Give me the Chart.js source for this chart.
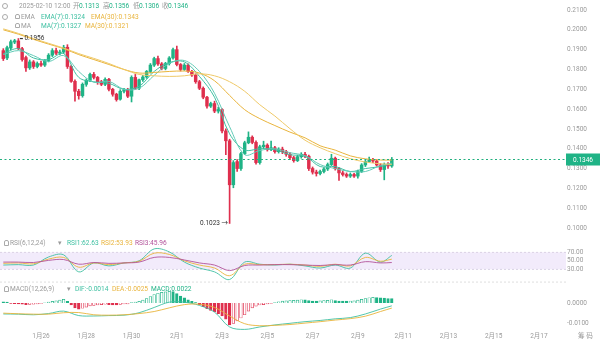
<!DOCTYPE html>
<html>
<head>
<meta charset="utf-8">
<script src="https://cdn.jsdelivr.net/npm/chart.js@4.4.0/dist/chart.umd.min.js"></script>
<style>
  html, body { margin: 0; padding: 0; background: #fff; }
  body { position: relative; width: 600px; height: 343px; overflow: hidden; }
  .pane { position: absolute; left: 0; width: 600px; }
  .lbl { position: absolute; white-space: nowrap; font: 6.6px/8px Roboto, "Noto Sans CJK SC", sans-serif; transform: translateY(-50%); }
  .ring { position: absolute; width: 4px; height: 4px; border: 0.8px solid #aaa; border-radius: 50%; }
  .bell { position: absolute; width: 3px; height: 3.5px; border: 0.8px solid #aaa; border-radius: 2px 2px 0 0; }
</style>
</head>
<body>
<div class="pane" style="top:0;height:234px"><canvas id="mainChart"></canvas></div>
<div class="pane" style="top:239px;height:46px"><canvas id="rsiChart"></canvas></div>
<div class="pane" style="top:286px;height:57px"><canvas id="macdChart"></canvas></div>

<script>
// 4h candles, hours counted from 1月26 00:00; first candle is 1月24 08:00
const startHour = -40;
const stepHours = 4;

const candleOpen = [
  0.1895, 0.1858, 0.1908, 0.1938, 0.1944, 0.1905, 0.1860, 0.1808, 0.1838, 0.1815,
  0.1830, 0.1822, 0.1845, 0.1872, 0.1895, 0.1882, 0.1888, 0.1912, 0.1815, 0.1740,
  0.1690, 0.1668, 0.1725, 0.1745, 0.1775, 0.1760, 0.1738, 0.1725, 0.1750, 0.1700,
  0.1675, 0.1650, 0.1690, 0.1698, 0.1665, 0.1760, 0.1705, 0.1748, 0.1762, 0.1790,
  0.1822, 0.1855, 0.1828, 0.1805, 0.1830, 0.1858, 0.1900, 0.1825, 0.1800, 0.1822,
  0.1790, 0.1772, 0.1738, 0.1705, 0.1660, 0.1615, 0.1628, 0.1590, 0.1598, 0.1490,
  0.1440, 0.1218, 0.1335, 0.1300, 0.1375, 0.1430, 0.1458, 0.1432, 0.1330, 0.1410,
  0.1418, 0.1395, 0.1405, 0.1385, 0.1398, 0.1385, 0.1372, 0.1355, 0.1340, 0.1360,
  0.1372, 0.1362, 0.1300, 0.1282, 0.1275, 0.1285, 0.1298, 0.1320, 0.1352, 0.1300,
  0.1278, 0.1270, 0.1262, 0.1270, 0.1262, 0.1285, 0.1318, 0.1335, 0.1345, 0.1338,
  0.1318, 0.1295, 0.1320, 0.1313
];
const candleHigh = [
  0.1905, 0.1918, 0.1948, 0.1952, 0.1956, 0.1912, 0.1868, 0.1848, 0.1845, 0.1838,
  0.1842, 0.1850, 0.1880, 0.1905, 0.1908, 0.1898, 0.1922, 0.1925, 0.1822, 0.1748,
  0.1700, 0.1732, 0.1752, 0.1782, 0.1785, 0.1765, 0.1745, 0.1758, 0.1755, 0.1705,
  0.1680, 0.1698, 0.1705, 0.1705, 0.1768, 0.1775, 0.1752, 0.1770, 0.1795, 0.1830,
  0.1862, 0.1868, 0.1835, 0.1836, 0.1865, 0.1908, 0.1918, 0.1830, 0.1830, 0.1828,
  0.1796, 0.1778, 0.1745, 0.1712, 0.1665, 0.1635, 0.1640, 0.1610, 0.1602, 0.1500,
  0.1448, 0.1340, 0.1345, 0.1382, 0.1438, 0.1485, 0.1465, 0.1440, 0.1418, 0.1438,
  0.1425, 0.1438, 0.1412, 0.1405, 0.1408, 0.1392, 0.1380, 0.1362, 0.1368, 0.1380,
  0.1382, 0.1368, 0.1308, 0.1292, 0.1292, 0.1305, 0.1328, 0.1372, 0.1358, 0.1305,
  0.1288, 0.1278, 0.1278, 0.1276, 0.1292, 0.1325, 0.1342, 0.1358, 0.1352, 0.1345,
  0.1325, 0.1328, 0.1330, 0.1356
];
const candleLow = [
  0.1845, 0.1850, 0.1900, 0.1930, 0.1900, 0.1842, 0.1790, 0.1800, 0.1805, 0.1808,
  0.1815, 0.1815, 0.1838, 0.1865, 0.1875, 0.1875, 0.1880, 0.1805, 0.1735, 0.1640,
  0.1650, 0.1660, 0.1715, 0.1738, 0.1752, 0.1725, 0.1718, 0.1718, 0.1692, 0.1665,
  0.1640, 0.1645, 0.1682, 0.1658, 0.1636, 0.1700, 0.1698, 0.1740, 0.1755, 0.1782,
  0.1815, 0.1820, 0.1798, 0.1798, 0.1822, 0.1852, 0.1818, 0.1792, 0.1795, 0.1785,
  0.1765, 0.1730, 0.1698, 0.1652, 0.1605, 0.1608, 0.1582, 0.1580, 0.1480, 0.1370,
  0.1023, 0.1203, 0.1285, 0.1290, 0.1370, 0.1425, 0.1425, 0.1322, 0.1322, 0.1400,
  0.1388, 0.1390, 0.1378, 0.1378, 0.1375, 0.1362, 0.1345, 0.1332, 0.1335, 0.1352,
  0.1355, 0.1290, 0.1272, 0.1262, 0.1268, 0.1278, 0.1290, 0.1315, 0.1292, 0.1240,
  0.1262, 0.1255, 0.1255, 0.1255, 0.1252, 0.1280, 0.1310, 0.1330, 0.1330, 0.1312,
  0.1285, 0.1243, 0.1300, 0.1306
];
const candleClose = [
  0.1855, 0.1910, 0.1940, 0.1945, 0.1905, 0.1850, 0.1808, 0.1838, 0.1815, 0.1830,
  0.1822, 0.1845, 0.1872, 0.1895, 0.1882, 0.1888, 0.1912, 0.1815, 0.1740, 0.1690,
  0.1668, 0.1725, 0.1745, 0.1775, 0.1760, 0.1735, 0.1725, 0.1750, 0.1700, 0.1675,
  0.1648, 0.1690, 0.1698, 0.1665, 0.1760, 0.1705, 0.1748, 0.1762, 0.1790, 0.1822,
  0.1855, 0.1828, 0.1805, 0.1830, 0.1858, 0.1900, 0.1825, 0.1800, 0.1822, 0.1790,
  0.1772, 0.1738, 0.1705, 0.1660, 0.1615, 0.1628, 0.1590, 0.1598, 0.1490, 0.1440,
  0.1218, 0.1330, 0.1300, 0.1375, 0.1430, 0.1458, 0.1432, 0.1330, 0.1410, 0.1418,
  0.1395, 0.1405, 0.1385, 0.1398, 0.1385, 0.1372, 0.1355, 0.1340, 0.1360, 0.1372,
  0.1362, 0.1300, 0.1282, 0.1275, 0.1285, 0.1298, 0.1320, 0.1352, 0.1300, 0.1278,
  0.1270, 0.1262, 0.1270, 0.1262, 0.1285, 0.1318, 0.1335, 0.1345, 0.1338, 0.1318,
  0.1295, 0.1320, 0.1313, 0.1346
];

// indicator lines, read every 4th candle
const lineIdx = [0, 4, 8, 12, 16, 20, 24, 28, 32, 36, 40, 44, 48, 52, 56, 60, 64, 68, 72, 76, 80, 84, 88, 92, 96, 100, 103];
const ema7  = [0.1880, 0.1905, 0.1858, 0.1850, 0.1880, 0.1760, 0.1738, 0.1730, 0.1700, 0.1715, 0.1790, 0.1835, 0.1838, 0.1765, 0.1660, 0.1475, 0.1394, 0.1400, 0.1395, 0.1370, 0.1362, 0.1310, 0.1310, 0.1285, 0.1300, 0.1310, 0.1324];
const ma7   = [0.1875, 0.1895, 0.1870, 0.1840, 0.1870, 0.1790, 0.1735, 0.1740, 0.1700, 0.1705, 0.1770, 0.1830, 0.1845, 0.1790, 0.1680, 0.1511, 0.1370, 0.1391, 0.1400, 0.1380, 0.1365, 0.1320, 0.1300, 0.1285, 0.1285, 0.1315, 0.1327];
const ema30 = [0.2000, 0.1978, 0.1952, 0.1928, 0.1905, 0.1875, 0.1850, 0.1825, 0.1800, 0.1782, 0.1785, 0.1790, 0.1792, 0.1782, 0.1743, 0.1669, 0.1597, 0.1552, 0.1517, 0.1484, 0.1455, 0.1415, 0.1393, 0.1364, 0.1349, 0.1343, 0.1343];
const ma30  = [0.2005, 0.1982, 0.1956, 0.1932, 0.1908, 0.1880, 0.1856, 0.1830, 0.1800, 0.1775, 0.1768, 0.1765, 0.1768, 0.1778, 0.1768, 0.1738, 0.1690, 0.1622, 0.1565, 0.1501, 0.1443, 0.1405, 0.1375, 0.1350, 0.1333, 0.1324, 0.1321];

const rsi1 = [40, 41, 40, 59, 64, 24, 45, 38, 45, 50, 78, 71, 47, 33, 24, 6, 47, 42, 40, 42, 38, 33, 40, 33, 68, 47, 62.63];
const rsi2 = [44, 45, 43, 54, 58, 35, 45, 41, 45, 49, 68, 65, 50, 40, 33, 15, 42, 41, 41, 42, 40, 37, 42, 38, 58, 49, 53.93];
const rsi3 = [47, 47, 46, 51, 53, 42, 46, 44, 45, 47, 58, 58, 52, 45, 40, 27, 39, 40, 41, 41, 40, 39, 41, 40, 48, 45, 45.96];

const dif = [-0.0054, -0.0055, -0.0058, -0.0052, -0.0040, -0.0062, -0.0064, -0.0062, -0.0060, -0.0048, -0.0022, 0.0004, 0.0004, -0.0012, -0.0045, -0.0118, -0.0130, -0.0118, -0.0108, -0.0100, -0.0092, -0.0086, -0.0078, -0.0072, -0.0054, -0.0030, -0.0014];
const dea = [-0.0050, -0.0053, -0.0055, -0.0055, -0.0048, -0.0047, -0.0058, -0.0060, -0.0058, -0.0052, -0.0042, -0.0024, -0.0008, -0.0006, -0.0022, -0.0064, -0.0102, -0.0112, -0.0110, -0.0106, -0.0099, -0.0092, -0.0084, -0.0077, -0.0065, -0.0042, -0.0025];

// MACD histogram, one bar per candle
const macdHist = [
  0.0006, 0.0004, -0.0002, -0.0003, -0.0004, -0.0006, -0.0008, -0.0007, -0.0006, -0.0005,
  -0.0003, 0.0001, 0.0004, 0.0008, 0.0011, 0.0014, 0.0018, 0.0008, -0.0010, -0.0024,
  -0.0030, -0.0026, -0.0020, -0.0014, -0.0012, -0.0010, -0.0008, -0.0006, -0.0008, -0.0009,
  -0.0010, -0.0007, -0.0005, -0.0004, 0.0002, 0.0004, 0.0008, 0.0014, 0.0022, 0.0032,
  0.0042, 0.0048, 0.0052, 0.0055, 0.0057, 0.0056, 0.0046, 0.0034, 0.0026, 0.0016,
  0.0008, 0.0002, -0.0008, -0.0018, -0.0028, -0.0036, -0.0044, -0.0052, -0.0064, -0.0080,
  -0.0108, -0.0100, -0.0088, -0.0074, -0.0058, -0.0040, -0.0024, -0.0016, -0.0010, -0.0008,
  -0.0005, -0.0002, 0.0002, 0.0006, 0.0009, 0.0011, 0.0012, 0.0013, 0.0014, 0.0016,
  0.0016, 0.0012, 0.0010, 0.0010, 0.0011, 0.0012, 0.0013, 0.0016, 0.0012, 0.0010,
  0.0010, 0.0009, 0.0010, 0.0011, 0.0014, 0.0018, 0.0022, 0.0026, 0.0028, 0.0027,
  0.0025, 0.0024, 0.0022, 0.0022
];

const dayTickHours  = [0, 48, 96, 144, 192, 240, 288, 336, 384, 432, 480, 528];
const dayTickLabels = ['1月26', '1月28', '1月30', '2月1', '2月3', '2月5', '2月7', '2月9', '2月11', '2月13', '2月15', '2月17'];
const priceTicks = [0.10, 0.11, 0.12, 0.13, 0.14, 0.15, 0.16, 0.17, 0.18, 0.19, 0.20, 0.21];
const rsiTicks = [30, 50, 70];
const macdTicks = [-0.01, 0];

// ---- styles ----
const UP = '#1fb386';
const DOWN = '#df2f4d';
const TEAL = '#3fc0a2';
const TEAL2 = '#62cbb7';
const YELLOW = '#e9b43c';
const YELLOW2 = '#efc968';
const PURPLE = '#b2529a';
const GREY = '#9a9a9a';
const FONT = 'Roboto, "Noto Sans CJK SC", sans-serif';

const xMin = -43.5, xMax = 552.5;
const hourOf = i => startHour + stepHours * i;

Chart.defaults.font.family = FONT;
Chart.defaults.font.size = 6.5;
Chart.defaults.color = GREY;

function fixedY(ticks, fmt) {
  return {
    position: 'right',
    grid: { display: false, drawTicks: false },
    border: { display: false },
    ticks: { padding: 5, color: GREY, font: { size: 6.5 }, callback: v => fmt(v) },
    afterBuildTicks: s => { s.ticks = ticks.map(v => ({ value: v })); },
    afterFit: s => { s.width = 38; s.paddingTop = 0; s.paddingBottom = 0; }
  };
}
const hiddenX = { type: 'linear', display: false, min: xMin, max: xMax, offset: false };
const baseOpts = {
  responsive: true,
  maintainAspectRatio: false,
  animation: false,
  devicePixelRatio: 1,
  layout: { padding: 0 },
  plugins: { legend: { display: false }, tooltip: { enabled: false } }
};

function lineSet(values, color, width) {
  return {
    type: 'line',
    data: lineIdx.map((k, j) => ({ x: hourOf(k), y: values[j] })),
    borderColor: color,
    borderWidth: width || 1,
    pointRadius: 0,
    tension: 0.35,
    fill: false
  };
}

// ---- price panel ----
const candleColor = candleClose.map((c, i) => c >= candleOpen[i] ? UP : DOWN);

const priceMarks = {
  id: 'priceMarks',
  afterDatasetsDraw(chart) {
    const { ctx, chartArea, scales } = chart;
    const x = scales.x, y = scales.y;
    let hi = 0, lo = 0;
    candleHigh.forEach((v, i) => { if (v > candleHigh[hi]) hi = i; });
    candleLow.forEach((v, i) => { if (v < candleLow[lo]) lo = i; });
    ctx.save();
    ctx.font = '6.5px ' + FONT;
    ctx.fillStyle = '#333';
    ctx.textBaseline = 'middle';
    // highest high
    const hx = x.getPixelForValue(hourOf(hi)), hy = y.getPixelForValue(candleHigh[hi]);
    ctx.fillRect(hx + 1.5, hy - 0.6, 3, 1.2);
    ctx.textAlign = 'left';
    ctx.fillText(candleHigh[hi].toFixed(4), hx + 6, hy);
    // lowest low
    const lx = x.getPixelForValue(hourOf(lo)), ly = y.getPixelForValue(candleLow[lo]);
    ctx.textAlign = 'right';
    ctx.fillText(candleLow[lo].toFixed(4) + ' →', lx - 1.5, ly);
    // last price line and tag
    const last = candleClose[candleClose.length - 1];
    const py = Math.round(y.getPixelForValue(last)) + 0.5;
    ctx.strokeStyle = '#22b07f';
    ctx.lineWidth = 1;
    ctx.setLineDash([2, 2.5]);
    ctx.beginPath();
    ctx.moveTo(chartArea.left, py);
    ctx.lineTo(chartArea.right + 4, py);
    ctx.stroke();
    ctx.setLineDash([]);
    ctx.fillStyle = UP;
    ctx.fillRect(chartArea.right + 4, py - 6, 34, 12);
    ctx.fillStyle = '#fff';
    ctx.textAlign = 'center';
    ctx.fillText(last.toFixed(4), chartArea.right + 21, py + 0.5);
    ctx.restore();
  }
};

new Chart(document.getElementById('mainChart'), {
  type: 'bar',
  data: {
    datasets: [
      {
        data: candleHigh.map((h, i) => ({ x: hourOf(i), y: [candleLow[i], h] })),
        backgroundColor: candleColor,
        barThickness: 1,
        grouped: false,
        order: 3
      },
      {
        data: candleOpen.map((o, i) => ({ x: hourOf(i), y: [o, candleClose[i]] })),
        backgroundColor: candleColor,
        barThickness: 2.8,
        minBarLength: 1,
        grouped: false,
        order: 2
      },
      Object.assign(lineSet(ma30, YELLOW2), { order: 1 }),
      Object.assign(lineSet(ema30, YELLOW), { order: 1 }),
      Object.assign(lineSet(ma7, TEAL2), { order: 1 }),
      Object.assign(lineSet(ema7, TEAL), { order: 1 })
    ]
  },
  options: Object.assign({}, baseOpts, {
    scales: {
      x: hiddenX,
      y: Object.assign(fixedY(priceTicks, v => v.toFixed(4)), { min: 0.09697, max: 0.21505, beginAtZero: false })
    }
  }),
  plugins: [priceMarks]
});

// ---- RSI panel ----
const rsiBand = {
  id: 'rsiBand',
  beforeDatasetsDraw(chart) {
    const { ctx, chartArea, scales } = chart;
    const y70 = scales.y.getPixelForValue(70), y30 = scales.y.getPixelForValue(30), y0 = scales.y.getPixelForValue(0);
    const right = chartArea.right + 4;
    ctx.save();
    ctx.fillStyle = '#f2ebfb';
    ctx.fillRect(chartArea.left, y70, right - chartArea.left, y30 - y70);
    ctx.strokeStyle = '#d3cadf';
    ctx.lineWidth = 0.8;
    ctx.setLineDash([2, 2]);
    [y70, y30].forEach(yy => {
      ctx.beginPath(); ctx.moveTo(chartArea.left, yy); ctx.lineTo(right, yy); ctx.stroke();
    });
    ctx.strokeStyle = '#d6d6d6';
    ctx.beginPath(); ctx.moveTo(chartArea.left, y0); ctx.lineTo(right, y0); ctx.stroke();
    ctx.restore();
  }
};

new Chart(document.getElementById('rsiChart'), {
  type: 'line',
  data: {
    datasets: [
      lineSet(rsi3, PURPLE, 0.9),
      lineSet(rsi2, YELLOW, 0.9),
      lineSet(rsi1, TEAL, 0.9)
    ]
  },
  options: Object.assign({}, baseOpts, {
    scales: {
      x: hiddenX,
      y: Object.assign(fixedY(rsiTicks, v => v.toFixed(2)), { min: -6.9, max: 101.3 })
    }
  }),
  plugins: [rsiBand]
});

// ---- MACD panel ----
// filled bar when the histogram falls, hollow when it rises
const histColor = macdHist.map(v => v >= 0 ? UP : DOWN);
const histFill = macdHist.map((v, i) => (i > 0 && v > macdHist[i - 1]) ? '#ffffff' : histColor[i]);

new Chart(document.getElementById('macdChart'), {
  type: 'bar',
  data: {
    datasets: [
      {
        data: macdHist.map((v, i) => ({ x: hourOf(i), y: v })),
        backgroundColor: histFill,
        borderColor: histColor,
        borderWidth: 0.7,
        barThickness: 2.6,
        grouped: false,
        order: 2
      },
      Object.assign(lineSet(dea, YELLOW, 0.9), { order: 1 }),
      Object.assign(lineSet(dif, TEAL, 0.9), { order: 1 })
    ]
  },
  options: Object.assign({}, baseOpts, {
    scales: {
      x: {
        type: 'linear', min: xMin, max: xMax, offset: false,
        grid: { display: false, drawTicks: false },
        border: { display: false },
        ticks: { padding: 2, maxRotation: 0, autoSkip: false, color: GREY, font: { size: 6.5 },
                 callback: (v, i) => dayTickLabels[i] },
        afterBuildTicks: s => { s.ticks = dayTickHours.map(v => ({ value: v })); },
        afterFit: s => { s.height = 13; s.paddingLeft = 0; s.paddingRight = 0; }
      },
      y: Object.assign(fixedY(macdTicks, v => v.toFixed(4)), { min: -0.0133, max: 0.00837, beginAtZero: false })
    }
  })
});

// ---- legend rows ----
function put(text, x, y, color) {
  const s = document.createElement('span');
  s.className = 'lbl';
  s.textContent = text;
  s.style.left = x + 'px';
  s.style.top = y + 'px';
  s.style.color = color;
  document.body.appendChild(s);
}
function icon(cls, x, y) {
  const d = document.createElement('div');
  d.className = cls;
  d.style.left = x + 'px';
  d.style.top = y + 'px';
  document.body.appendChild(d);
}

icon('ring', 2, 2.5);
put('2025-02-10 12:00', 19, 5.5, GREY);
put('开', 73, 5.5, GREY); put('0.1313', 79, 5.5, UP);
put('高', 103, 5.5, GREY); put('0.1356', 109, 5.5, UP);
put('低', 133, 5.5, GREY); put('0.1306', 139, 5.5, UP);
put('收', 162, 5.5, GREY); put('0.1346', 168, 5.5, UP);

icon('ring', 2, 13.5);
icon('bell', 15, 13.8);
put('EMA', 21, 16.5, GREY);
put('EMA(7):0.1324', 41, 16.5, TEAL);
put('EMA(30):0.1343', 91, 16.5, YELLOW);

icon('bell', 15, 22.8);
put('MA', 21, 25.5, GREY);
put('MA(7):0.1327', 41, 25.5, TEAL);
put('MA(30):0.1321', 85, 25.5, YELLOW);

icon('bell', 4, 240);
put('RSI(6,12,24)', 10, 242.7, GREY);
put('▾', 58, 242.7, GREY);
put('RSI1:62.63', 67, 242.7, TEAL);
put('RSI2:53.93', 101, 242.7, YELLOW);
put('RSI3:45.96', 135, 242.7, PURPLE);

icon('bell', 4, 286);
put('MACD(12,26,9)', 10, 288.7, GREY);
put('▾', 67, 288.7, GREY);
put('DIF:-0.0014', 75, 288.7, TEAL);
put('DEA:-0.0025', 112, 288.7, YELLOW);
put('MACD:0.0022', 151, 288.7, UP);

put('筹 码', 578, 335.5, GREY);
</script>
</body>
</html>
